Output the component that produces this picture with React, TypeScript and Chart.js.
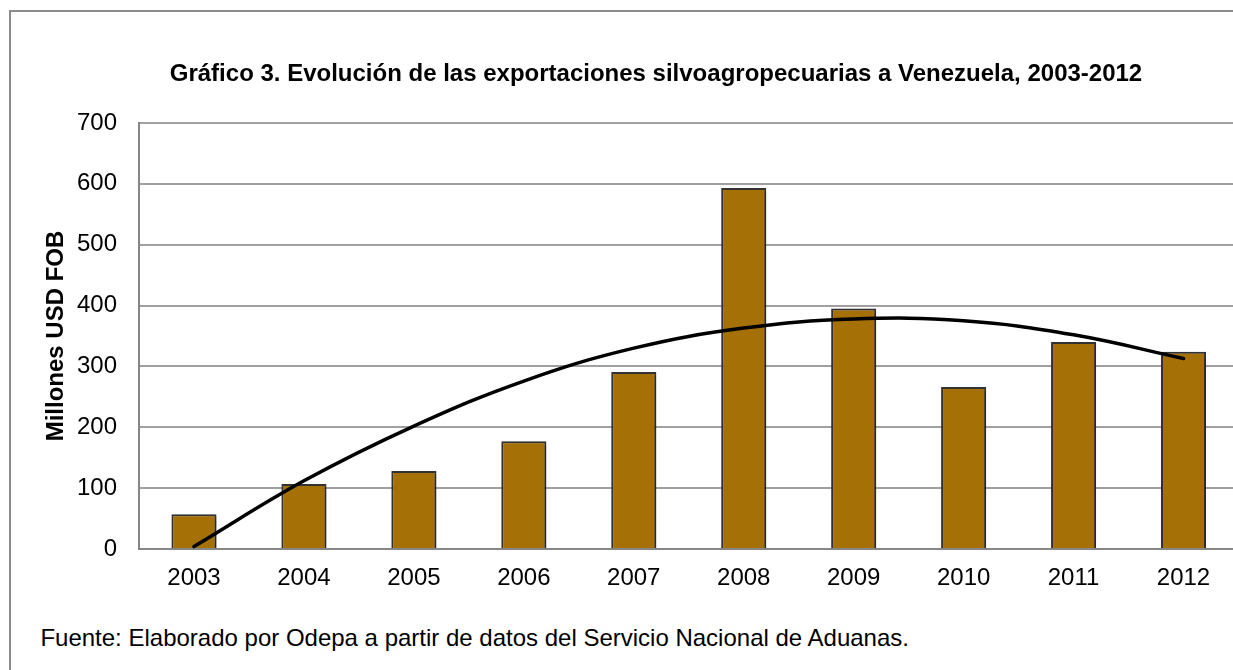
import React, { useEffect, useRef } from "react";
import { Chart, registerables } from "chart.js";

Chart.register(...registerables);

const years = ["2003", "2004", "2005", "2006", "2007", "2008", "2009", "2010", "2011", "2012"];
const exportsValues = [57, 107, 128, 177, 291, 593, 395, 266, 340, 324];
const trendValues = [4, 112, 202, 276, 330, 363, 378, 375, 352, 313];
const yMin = 0;
const yMax = 700;
const yStep = 100;

const titleText = "Gráfico 3. Evolución de las exportaciones silvoagropecuarias a Venezuela, 2003-2012";
const yAxisTitle = "Millones USD FOB";
const sourceText = "Fuente: Elaborado por Odepa a partir de datos del Servicio Nacional de Aduanas.";

const FONT = "'Liberation Sans', Arial, sans-serif";

const barShadow = {
  id: "barShadow",
  beforeDatasetDraw(chart: any, args: any) {
    if (args.index === 0) {
      const c = chart.ctx;
      c.save();
      c.shadowColor = "rgba(0,0,0,0.35)";
      c.shadowBlur = 4;
      c.shadowOffsetX = 2;
      c.shadowOffsetY = 2;
    }
  },
  afterDatasetDraw(chart: any, args: any) {
    if (args.index === 0) chart.ctx.restore();
  },
};

export default function App() {
  const ref = useRef<HTMLCanvasElement | null>(null);

  useEffect(() => {
    if (!ref.current) return;
    const chart = new Chart(ref.current, {
      type: "bar",
      data: {
        labels: years,
        datasets: [
          {
            type: "bar",
            data: exportsValues,
            backgroundColor: "#A57005",
            borderColor: "#333333",
            borderWidth: 2,
            barPercentage: 0.41,
            categoryPercentage: 1,
            order: 1,
          } as any,
          {
            type: "line",
            data: trendValues,
            borderColor: "#000000",
            borderWidth: 3.5,
            pointRadius: 0,
            tension: 0.4,
            fill: false,
            borderCapStyle: "round",
            order: 0,
          } as any,
        ],
      },
      options: {
        responsive: false,
        animation: false,
        devicePixelRatio: 1,
        layout: { padding: { left: 0, right: 1.5, top: 123, bottom: 0 } },
        plugins: {
          legend: { display: false },
          tooltip: { enabled: false },
          title: { display: false },
        },
        scales: {
          x: {
            grid: { display: true, drawOnChartArea: false, drawTicks: false },
            border: { display: true, color: "#868686", width: 2 },
            ticks: {
              color: "#000000",
              font: { family: FONT, size: 24, lineHeight: 1.2 },
              padding: 15,
              maxRotation: 0,
              autoSkip: false,
            },
            afterFit: (s: any) => {
              s.height = 61;
            },
          },
          y: {
            min: yMin,
            max: yMax,
            grid: { color: "#a0a0a0", lineWidth: 2, drawTicks: false },
            border: { display: true, color: "#868686", width: 2 },
            ticks: {
              stepSize: yStep,
              color: "#000000",
              font: { family: FONT, size: 24, lineHeight: 1.2 },
              padding: 22,
            },
            title: {
              display: true,
              text: yAxisTitle,
              color: "#000000",
              font: { family: FONT, size: 24, weight: "bold", lineHeight: 1.2 },
              padding: { top: 42.1, bottom: 0 },
            },
            afterFit: (s: any) => {
              s.width = 139;
            },
          },
        },
      },
      plugins: [barShadow],
    });
    return () => chart.destroy();
  }, []);

  return (
    <div
      style={{
        position: "fixed",
        left: 0,
        top: 0,
        width: 1233,
        height: 670,
        overflow: "hidden",
        background: "#ffffff",
      }}
    >
      <div
        style={{
          position: "absolute",
          left: 9,
          top: 10,
          width: 1300,
          height: 700,
          border: "2px solid #8c8c8c",
          boxSizing: "border-box",
        }}
      />
      <canvas
        ref={ref}
        width={1240}
        height={610}
        style={{ position: "absolute", left: 0, top: 0, width: 1240, height: 610 }}
      />
      <div
        style={{
          position: "absolute",
          left: 0,
          width: 1312,
          top: 61,
          textAlign: "center",
          fontFamily: FONT,
          fontSize: 24,
          fontWeight: "bold",
          lineHeight: 1,
          color: "#000000",
          whiteSpace: "nowrap",
        }}
      >
        {titleText}
      </div>
      <div
        style={{
          position: "absolute",
          left: 40.4,
          top: 626.4,
          fontFamily: FONT,
          fontSize: 24,
          lineHeight: 1,
          color: "#000000",
          whiteSpace: "nowrap",
        }}
      >
        {sourceText}
      </div>
    </div>
  );
}
